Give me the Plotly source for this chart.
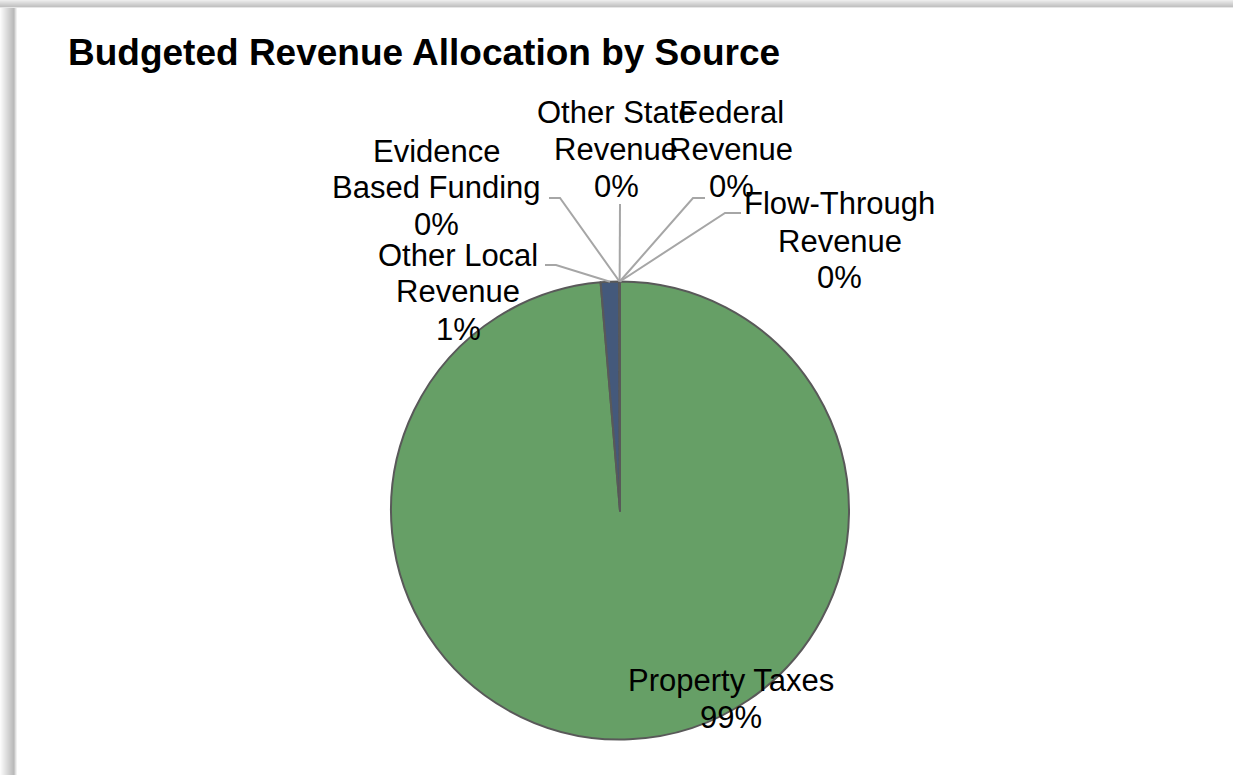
import math
import plotly.graph_objects as go

# Revenue sources and their budgeted share (percent of total)
sources = [
    "Property Taxes",
    "Other Local Revenue",
    "Evidence Based Funding",
    "Other State Revenue",
    "Federal Revenue",
    "Flow-Through Revenue",
]
shares = [98.65, 1.31, 0.01, 0.01, 0.01, 0.01]
label_lines = [
    ["Property Taxes"],
    ["Other Local", "Revenue"],
    ["Evidence", "Based Funding"],
    ["Other State", "Revenue"],
    ["Federal", "Revenue"],
    ["Flow-Through", "Revenue"],
]
slice_colors = ["#669F66", "#44597B", "#8C8C8C", "#A5A5A5", "#4F81BD", "#C0504D"]

W, H = 1233, 775
CX, CY, R = 620, 510.5, 229  # pie centre and radius in pixels
LABEL_FONT = 31
LINE_GAP = 37  # pixels between label text lines

# Label placement (pixel centre of the text block) and leader-line elbows
label_style = {
    "Property Taxes": {"center": (731, 699), "leader": None},
    "Other Local Revenue": {"center": (458, 292), "leader": [(545, 265), (556, 265)]},
    "Evidence Based Funding": {"center": (437, 188), "leader": [(549, 198), (560, 198)]},
    "Other State Revenue": {"center": (616, 149), "leader": [(620, 204)]},
    "Federal Revenue": {"center": (731, 149), "leader": [(705, 198), (693, 198)]},
    "Flow-Through Revenue": {"center": (840, 241), "leader": [(741, 213), (725, 213)]},
}


def px(x):
    return x / W


def py(y):
    return 1 - y / H


fig = go.Figure(
    go.Pie(
        labels=sources,
        values=shares,
        sort=False,
        direction="clockwise",
        rotation=0,
        textinfo="none",
        hoverinfo="label+percent",
        marker=dict(colors=slice_colors, line=dict(color="#595959", width=2)),
        domain=dict(x=[px(CX - R), px(CX + R)], y=[py(CY + R), py(CY - R)]),
        showlegend=False,
    )
)

total = sum(shares)
annotations = [
    dict(
        text="<b>Budgeted Revenue Allocation by Source</b>",
        x=px(66), y=py(52), xref="paper", yref="paper",
        xanchor="left", yanchor="middle", showarrow=False,
        font=dict(family="Liberation Sans, Arial, sans-serif", size=37, color="#000000"),
    )
]
shapes = []

# Window frame along the top and left edges
for i, c in enumerate(["#ececec", "#e4e4e4", "#dddddd", "#d6d6d6", "#cfcfcf", "#c8c8c8", "#c2c2c2", "#e6e6e6"]):
    shapes.append(dict(type="rect", xref="paper", yref="paper", x0=0, x1=1,
                       y0=py(i + 1), y1=py(i), fillcolor=c, line=dict(width=0), layer="above"))
for i, c in enumerate(["#fbfbfb", "#f6f6f6", "#f1f1f1", "#ececec", "#e7e7e7", "#e2e2e2", "#dddddd",
                       "#d8d8d8", "#d3d3d3", "#cecece", "#c9c9c9", "#c4c4c4", "#bfbfbf", "#bababa",
                       "#c6c6c6", "#dedede", "#f0f0f0"]):
    shapes.append(dict(type="rect", xref="paper", yref="paper", x0=px(i), x1=px(i + 1),
                       y0=0, y1=py(8), fillcolor=c, line=dict(width=0), layer="above"))

cum = 0.0
for name, value, lines in zip(sources, shares, label_lines):
    mid = (cum + value / 2) / total
    cum += value
    ang = math.radians(90 - 360 * mid)
    ax, ay = CX + R * math.cos(ang), CY - R * math.sin(ang)
    pct = round(value / total * 100)
    style = label_style[name]
    cx, cy = style["center"]
    rows = lines + [f"{pct}%"]
    top = cy - LINE_GAP * (len(rows) - 1) / 2
    for k, row in enumerate(rows):
        annotations.append(dict(
            text=row,
            x=px(cx), y=py(top + k * LINE_GAP), xref="paper", yref="paper",
            xanchor="center", yanchor="middle", showarrow=False, align="center",
            font=dict(family="Liberation Sans, Arial, sans-serif", size=LABEL_FONT, color="#000000"),
        ))
    if style["leader"]:
        pts = style["leader"] + [(ax, ay)]
        path = "M " + " L ".join(f"{px(x):.5f},{py(y):.5f}" for x, y in pts)
        shapes.append(dict(type="path", xref="paper", yref="paper", path=path,
                           line=dict(color="#A6A6A6", width=2), layer="above"))

fig.update_layout(
    width=W, height=H,
    margin=dict(l=0, r=0, t=0, b=0),
    paper_bgcolor="#FFFFFF",
    plot_bgcolor="#FFFFFF",
    annotations=annotations,
    shapes=shapes,
)

fig.write_html("out.html")
